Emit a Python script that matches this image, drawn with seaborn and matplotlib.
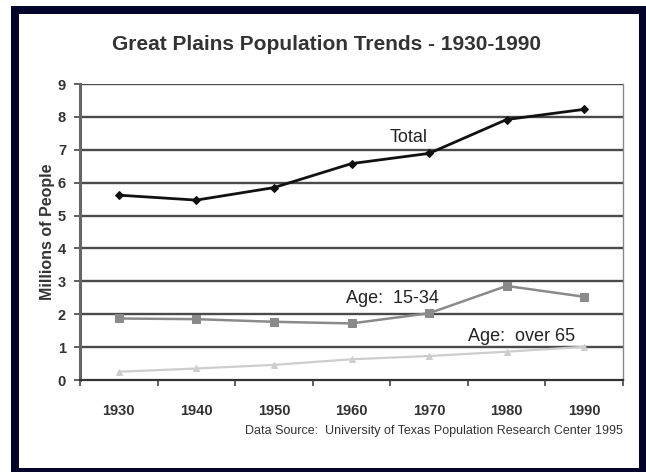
import matplotlib
matplotlib.use("Agg")
import matplotlib.pyplot as plt
from matplotlib.patches import Rectangle
from matplotlib.ticker import FixedLocator, NullFormatter
import seaborn as sns
import pandas as pd

# Population in millions, Great Plains, by decade
years = ["1930", "1940", "1950", "1960", "1970", "1980", "1990"]
total = [5.62, 5.47, 5.85, 6.58, 6.89, 7.92, 8.23]
age_15_34 = [1.87, 1.85, 1.77, 1.72, 2.03, 2.86, 2.53]
age_over_65 = [0.25, 0.35, 0.46, 0.63, 0.73, 0.86, 1.01]
y_ticks = list(range(0, 10))

series = {
    "Total": total,
    "Age:  15-34": age_15_34,
    "Age:  over 65": age_over_65,
}
styles = {
    "Total": dict(color="#111111", marker="D", ms=4.5, lw=2.0),
    "Age:  15-34": dict(color="#8a8a8a", marker="s", ms=6, lw=1.8),
    "Age:  over 65": dict(color="#cdcdcd", marker="^", ms=5, lw=1.6),
}
# label anchor positions (category index, value)
label_pos = {
    "Total": (3.74, 7.36),
    "Age:  15-34": (3.53, 2.49),
    "Age:  over 65": (5.19, 1.31),
}

rows = []
for name, vals in series.items():
    for i, v in enumerate(vals):
        rows.append({"series": name, "idx": i, "year": years[i], "value": v})
df = pd.DataFrame(rows)

sns.set_theme(style="white")
plt.rcParams["font.family"] = ["Liberation Sans", "DejaVu Sans"]

W, H = 646, 472
fig = plt.figure(figsize=(W / 100, H / 100), dpi=100, facecolor="white")

# dark frame around the chart
fig.add_artist(Rectangle((11 / W, 0), (W - 11) / W, (H - 6) / H,
                         transform=fig.transFigure, facecolor="#04032a",
                         edgecolor="none", zorder=0))
fig.add_artist(Rectangle((19 / W, 4 / H), 620 / W, 454 / H,
                         transform=fig.transFigure, facecolor="white",
                         edgecolor="none", zorder=0))

ax = fig.add_axes([80 / W, 1 - 380 / H, (623 - 80) / W, (380 - 84) / H])
ax.set_facecolor("none")

for name in series:
    st = styles[name]
    sub = df[df["series"] == name]
    sns.lineplot(data=sub, x="idx", y="value", ax=ax, color=st["color"],
                 marker=st["marker"], markersize=st["ms"], linewidth=st["lw"],
                 markeredgecolor=st["color"], legend=False, zorder=3)
    lx, ly = label_pos[name]
    ax.text(lx, ly, name, ha="center", va="center", fontsize=13,
            color="#222222", zorder=4)

ax.set_xlim(-0.5, len(years) - 0.5)
ax.set_ylim(0, 9)

# horizontal gridlines
for t in y_ticks[1:]:
    ax.axhline(t, color="#4a4a4a", lw=1.7, zorder=1)

ax.set_yticks(y_ticks)
ax.set_yticklabels([str(t) for t in y_ticks], fontsize=10.5, fontweight="bold",
                   color="#333333")

# ticks between categories, labels centred on each category
ax.xaxis.set_major_locator(FixedLocator([i - 0.5 for i in range(len(years) + 1)]))
ax.xaxis.set_major_formatter(NullFormatter())
ax.xaxis.set_minor_locator(FixedLocator(list(range(len(years)))))
ax.set_xticklabels(years, minor=True, fontsize=10.5, fontweight="bold",
                   color="#333333")
ax.tick_params(axis="x", which="major", direction="out", length=4, width=1.2,
               color="#444444", bottom=True)
ax.tick_params(axis="x", which="minor", length=0, pad=17)
ax.tick_params(axis="y", direction="out", length=4, width=1.2,
               color="#444444", left=True, pad=6)

ax.set_xlabel("")
ax.set_ylabel("Millions of People", fontsize=11.5, fontweight="bold",
              color="#333333", labelpad=2)

ax.spines["top"].set_visible(False)
ax.spines["left"].set_color("#666666")
ax.spines["left"].set_linewidth(2.2)
ax.spines["bottom"].set_color("#333333")
ax.spines["bottom"].set_linewidth(1.6)
ax.spines["right"].set_color("#888888")
ax.spines["right"].set_linewidth(1.0)

fig.text(326 / W, 1 - 45 / H, "Great Plains Population Trends - 1930-1990",
         ha="center", va="center", fontsize=15, fontweight="bold",
         color="#333333")
fig.text(623 / W, 1 - 431 / H,
         "Data Source:  University of Texas Population Research Center 1995",
         ha="right", va="center", fontsize=9, color="#333333")

fig.savefig("out.png", dpi=100, facecolor="white")
